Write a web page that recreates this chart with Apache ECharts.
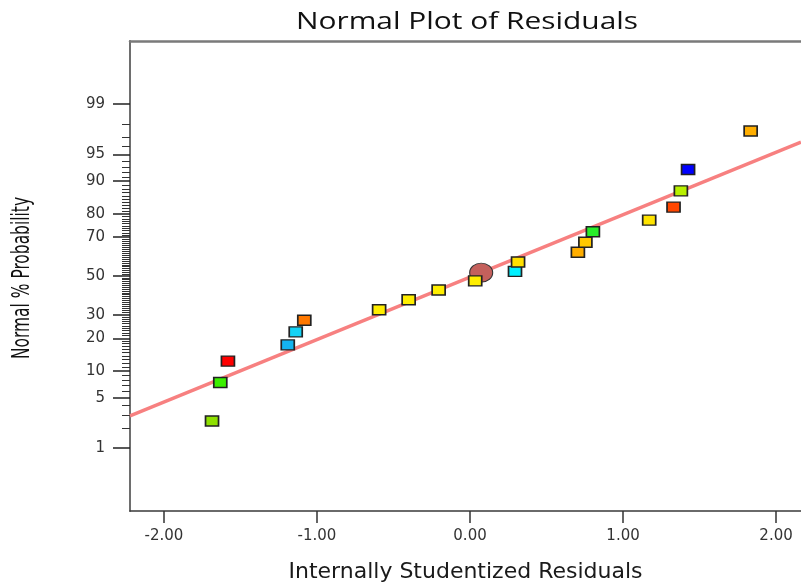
<!DOCTYPE html>
<html>
<head>
<meta charset="utf-8">
<script src="https://cdn.jsdelivr.net/npm/echarts@6/dist/echarts.min.js"></script>
<style>
  html, body { margin: 0; padding: 0; background: #ffffff; }
  #chart { width: 801px; height: 582px; }
</style>
</head>
<body>
<div id="chart"></div>
<script>
// Internally studentized residuals, sorted, with their normal % probability
const residuals = [-1.686, -1.632, -1.582, -1.191, -1.139, -1.083, -0.594, -0.401, -0.205, 0.034,
                   0.294, 0.314, 0.705, 0.754, 0.803, 1.171, 1.330, 1.378, 1.425, 1.834];
const probabilities = [2.5, 7.5, 12.5, 17.6, 22.5, 27.5, 32.4, 37.4, 42.5, 47.4,
                       52.5, 57.5, 62.6, 67.6, 72.5, 77.5, 82.4, 87.5, 92.5, 97.5];
// Highlighted run, drawn as a circle
const highlightedPoint = [0.073, 51.8];
// Reference line across the plot: residual ends and % probability at those ends
const refLineResiduals = [-2.222, 2.163];
const refLineProbabilities = [2.93, 96.47];
// Tick values
const xTicks = [-2, -1, 0, 1, 2];
const majorPercents = [1, 5, 10, 20, 30, 50, 70, 80, 90, 95, 99];
const minorPercents = [2, 3, 4, 6, 7, 8, 9, 11, 12, 13, 14, 15, 16, 17, 18, 19, 21, 22, 23, 24, 25, 26, 27, 28, 29,
  31, 32, 33, 34, 35, 36, 37, 38, 39, 40, 41, 42, 43, 44, 45, 46, 47, 48, 49, 51, 52, 53, 54, 55, 56, 57, 58, 59,
  60, 61, 62, 63, 64, 65, 66, 67, 68, 69, 71, 72, 73, 74, 75, 76, 77, 78, 79, 81, 82, 83, 84, 85, 86, 87, 88, 89,
  91, 92, 93, 94, 96, 97, 98];

// Marker fill colours, one per residual
const pointColors = ['#8ee000', '#3cf000', '#ff0000', '#14b4f0', '#14d2f5', '#ff7800', '#ffee00', '#ffee00',
  '#ffee00', '#ffee00', '#00f0ff', '#ffe000', '#ffae00', '#ffc800', '#28ee28', '#ffe400', '#ff4600',
  '#b8f000', '#0000ff', '#ffae00'];

// Inverse standard normal CDF (Acklam), maps a probability to the probit scale
function probit(p) {
  const a = [-3.969683028665376e+01, 2.209460984245205e+02, -2.759285104469687e+02, 1.383577518672690e+02, -3.066479806614716e+01, 2.506628277459239e+00];
  const b = [-5.447609879822406e+01, 1.615858368580409e+02, -1.556989798598866e+02, 6.680131188771972e+01, -1.328068155288572e+01];
  const c = [-7.784894002430293e-03, -3.223964580411365e-01, -2.400758277161838e+00, -2.549732539343734e+00, 4.374664141464968e+00, 2.938163982698783e+00];
  const d = [7.784695709041462e-03, 3.224671290700398e-01, 2.445134137142996e+00, 3.754408661907416e+00];
  const pl = 0.02425, ph = 1 - pl;
  let q, r;
  if (p < pl) {
    q = Math.sqrt(-2 * Math.log(p));
    return (((((c[0] * q + c[1]) * q + c[2]) * q + c[3]) * q + c[4]) * q + c[5]) /
           ((((d[0] * q + d[1]) * q + d[2]) * q + d[3]) * q + 1);
  }
  if (p > ph) {
    q = Math.sqrt(-2 * Math.log(1 - p));
    return -(((((c[0] * q + c[1]) * q + c[2]) * q + c[3]) * q + c[4]) * q + c[5]) /
            ((((d[0] * q + d[1]) * q + d[2]) * q + d[3]) * q + 1);
  }
  q = p - 0.5; r = q * q;
  return (((((a[0] * r + a[1]) * r + a[2]) * r + a[3]) * r + a[4]) * r + a[5]) * q /
         (((((b[0] * r + b[1]) * r + b[2]) * r + b[3]) * r + b[4]) * r + 1);
}
const z = pct => probit(pct / 100);

const majorZ = majorPercents.map(z);
const minorZ = minorPercents.map(z);
const Z_MIN = -3.176, Z_MAX = 3.176;
const X_MIN = -2.222, X_MAX = 2.163;

const tickFont = '"DejaVu Sans", sans-serif';

const chart = echarts.init(document.getElementById('chart'), null, { renderer: 'canvas' });
chart.setOption({
  animation: false,
  backgroundColor: '#ffffff',
  grid: { left: 130, right: 0, top: 41, bottom: 71, containLabel: false, outerBoundsMode: 'none' },
  graphic: [
    {
      type: 'text', x: 467, y: 22, scaleX: 1.3,
      style: { text: 'Normal Plot of Residuals', font: '23px "Open Sans", sans-serif', fill: '#111',
               align: 'center', verticalAlign: 'middle' }
    },
    {
      type: 'text', x: 22.5, y: 278, rotation: Math.PI / 2, scaleX: 0.716, scaleY: 1.05,
      style: { text: 'Normal % Probability', font: '24px "Liberation Sans Narrow", "DejaVu Sans Condensed", sans-serif',
               fill: '#111', align: 'center', verticalAlign: 'middle' }
    }
  ],
  xAxis: [
    {
      type: 'value', min: X_MIN, max: X_MAX, position: 'bottom',
      axisLine: { onZero: false, lineStyle: { color: '#3a3a3a', width: 1.5 } },
      axisTick: { show: true, customValues: xTicks, length: 12, inside: false, lineStyle: { color: '#333', width: 1.5 } },
      axisLabel: { customValues: xTicks, formatter: v => v.toFixed(2), margin: 18,
                   fontFamily: tickFont, fontSize: 15, color: '#333' },
      splitLine: { show: false },
      name: 'Internally Studentized Residuals', nameLocation: 'middle', nameGap: 50,
      nameTextStyle: { fontFamily: tickFont, fontSize: 22, color: '#1a1a1a' }
    },
    {
      type: 'value', min: X_MIN, max: X_MAX, position: 'top',
      axisLine: { onZero: false, lineStyle: { color: '#7a7a7a', width: 2.5 } },
      axisTick: { show: false }, axisLabel: { show: false }, splitLine: { show: false }
    }
  ],
  yAxis: [
    {
      type: 'value', min: Z_MIN, max: Z_MAX, position: 'left',
      axisLine: { show: true, onZero: false, lineStyle: { color: '#6e6e6e', width: 2 } },
      axisTick: { show: true, customValues: majorZ, length: 17, lineStyle: { color: '#222', width: 1.5 } },
      axisLabel: {
        customValues: majorZ, margin: 25, fontFamily: tickFont, fontSize: 15, color: '#333',
        formatter: v => {
          const i = majorZ.findIndex(t => Math.abs(t - v) < 1e-6);
          return i >= 0 ? String(majorPercents[i]) : '';
        }
      },
      splitLine: { show: false }
    },
    {
      type: 'value', min: Z_MIN, max: Z_MAX, position: 'left',
      axisLine: { show: false, onZero: false },
      axisTick: { show: true, customValues: minorZ, length: 8, lineStyle: { color: '#333', width: 1 } },
      axisLabel: { show: false },
      splitLine: { show: false }
    }
  ],
  series: [
    {
      name: 'Reference line', type: 'line', xAxisIndex: 0, yAxisIndex: 0, z: 1,
      data: refLineResiduals.map((x, i) => [x, z(refLineProbabilities[i])]),
      symbol: 'none', lineStyle: { color: '#f78080', width: 3.5 }, silent: true
    },
    {
      name: 'Highlighted', type: 'scatter', xAxisIndex: 0, yAxisIndex: 0, z: 2,
      data: [[highlightedPoint[0], z(highlightedPoint[1])]],
      symbol: 'circle', symbolSize: [23, 19],
      itemStyle: { color: '#c4605c', borderColor: '#333', borderWidth: 1, opacity: 1 }
    },
    {
      name: 'Residuals', type: 'scatter', xAxisIndex: 0, yAxisIndex: 0, z: 3,
      data: residuals.map((x, i) => ({ value: [x, z(probabilities[i])], itemStyle: { color: pointColors[i] } })),
      symbol: 'rect', symbolSize: [13, 10],
      itemStyle: { borderColor: '#222', borderWidth: 1.5, opacity: 1 }
    }
  ]
});
</script>
</body>
</html>
